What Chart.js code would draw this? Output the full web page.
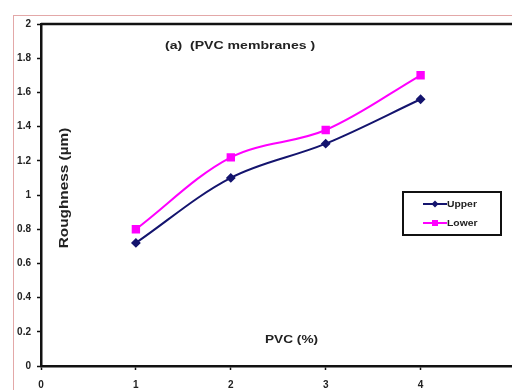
<!DOCTYPE html>
<html><head><meta charset="utf-8">
<script src="https://cdn.jsdelivr.net/npm/chart.js@4/dist/chart.umd.min.js"></script>
<style>
html,body{margin:0;padding:0;background:#fff;overflow:hidden;width:512px;height:390px;}
#wrap{position:absolute;left:0;top:0;width:522px;height:396px;}
</style></head><body>
<div id="wrap"><canvas id="c"></canvas></div>
<script>
const pvc = [1, 2, 3, 4];
const upper = [0.72, 1.10, 1.30, 1.56];
const lower = [0.80, 1.22, 1.38, 1.70];
const xTicks = [0, 1, 2, 3, 4];
const seriesNames = ['Upper', 'Lower'];
const chartTitle = '(a)  (PVC membranes )';
const xTitle = 'PVC (%)';
const yTitle = 'Roughness (\u00b5m)';

const UPPER_C = '#14146e', LOWER_C = '#ff00ff';
const FONT = '"Liberation Sans", Arial, sans-serif';

function stretchedText(ctx, txt, x, y, sx) {
  ctx.save();
  ctx.translate(x, y);
  ctx.scale(sx, 1);
  ctx.fillText(txt, 0, 0);
  ctx.restore();
}

const deco = {
  id: 'deco',
  beforeDraw(chart) {
    const ctx = chart.ctx;
    ctx.save();
    ctx.fillStyle = '#fff';
    ctx.fillRect(0, 0, chart.width, chart.height);
    ctx.strokeStyle = '#e3a8a8';
    ctx.lineWidth = 1;
    ctx.strokeRect(13.5, 15.5, chart.width + 20, chart.height + 20);
    ctx.restore();
  },
  afterDraw(chart) {
    const ctx = chart.ctx, a = chart.chartArea;
    ctx.save();
    ctx.strokeStyle = '#111';
    ctx.lineWidth = 2.5;
    ctx.beginPath();
    ctx.moveTo(a.left, a.top); ctx.lineTo(a.right, a.top); ctx.lineTo(a.right, a.bottom);
    ctx.stroke();
    // texts
    ctx.fillStyle = '#222';
    ctx.textBaseline = 'middle';
    ctx.textAlign = 'left';
    ctx.font = 'bold 11px ' + FONT;
    stretchedText(ctx, chartTitle, 165, 46, 1.28);
    stretchedText(ctx, xTitle, 265, 340, 1.24);
    ctx.save();
    ctx.translate(65, 188);
    ctx.rotate(-Math.PI / 2);
    ctx.textAlign = 'center';
    ctx.font = 'bold 12px ' + FONT;
    ctx.scale(1.28, 1);
    ctx.fillText(yTitle, 0, 0);
    ctx.restore();
    // legend
    const bx = 403, by = 192, bw = 98, bh = 43;
    ctx.fillStyle = '#fff';
    ctx.fillRect(bx, by, bw, bh);
    ctx.strokeStyle = '#111';
    ctx.lineWidth = 2;
    ctx.strokeRect(bx, by, bw, bh);
    const items = [[seriesNames[0], UPPER_C, 'diamond', 204], [seriesNames[1], LOWER_C, 'square', 223]];
    items.forEach(([name, col, shape, y]) => {
      ctx.strokeStyle = col; ctx.lineWidth = 2;
      ctx.beginPath(); ctx.moveTo(423, y); ctx.lineTo(447, y); ctx.stroke();
      ctx.fillStyle = col;
      if (shape === 'square') ctx.fillRect(432, y - 3, 6, 6);
      else { ctx.beginPath(); ctx.moveTo(435, y - 3.5); ctx.lineTo(438.5, y); ctx.lineTo(435, y + 3.5); ctx.lineTo(431.5, y); ctx.closePath(); ctx.fill(); }
      ctx.fillStyle = '#222';
      ctx.font = 'bold 9px ' + FONT;
      ctx.textAlign = 'left';
      stretchedText(ctx, name, 447, y + 0.5, 1.15);
    });
    ctx.restore();
  }
};

new Chart(document.getElementById('c'), {
  type: 'line',
  data: {
    datasets: [
      { label: seriesNames[0], data: pvc.map((x, i) => ({ x, y: upper[i] })),
        borderColor: UPPER_C, backgroundColor: UPPER_C, borderWidth: 2,
        pointStyle: 'rectRot', pointRadius: 3.5, tension: 0.35 },
      { label: seriesNames[1], data: pvc.map((x, i) => ({ x, y: lower[i] })),
        borderColor: LOWER_C, backgroundColor: LOWER_C, borderWidth: 2,
        pointStyle: 'rect', pointRadius: 4.5, tension: 0.35 }
    ]
  },
  options: {
    responsive: true, maintainAspectRatio: false, animation: false,
    layout: { padding: { top: 24, left: 0, right: 3, bottom: 0 } },
    plugins: { legend: { display: false }, title: { display: false }, tooltip: { enabled: false } },
    scales: {
      x: {
        type: 'linear', min: 0, max: 5,
        afterBuildTicks: s => { s.ticks = xTicks.map(v => ({ value: v })); },
        afterFit: s => { s.height = 30; },
        grid: { drawOnChartArea: false, drawTicks: true, tickLength: 4, tickColor: '#111', tickWidth: 1.5 },
        border: { color: '#111', width: 2.5 },
        ticks: { color: '#222', padding: 9, font: { family: FONT, size: 10, weight: 'bold' } }
      },
      y: {
        min: 0, max: 2,
        afterFit: s => { s.width = 41; },
        grid: { drawOnChartArea: false, drawTicks: true, tickLength: 4, tickColor: '#111', tickWidth: 1.5 },
        border: { color: '#111', width: 2.5 },
        ticks: { stepSize: 0.2, color: '#222', padding: 6,
          font: { family: FONT, size: 10, weight: 'bold' },
          callback: v => String(Number(v.toFixed(1))) }
      }
    }
  },
  plugins: [deco]
});
</script>
</body></html>
